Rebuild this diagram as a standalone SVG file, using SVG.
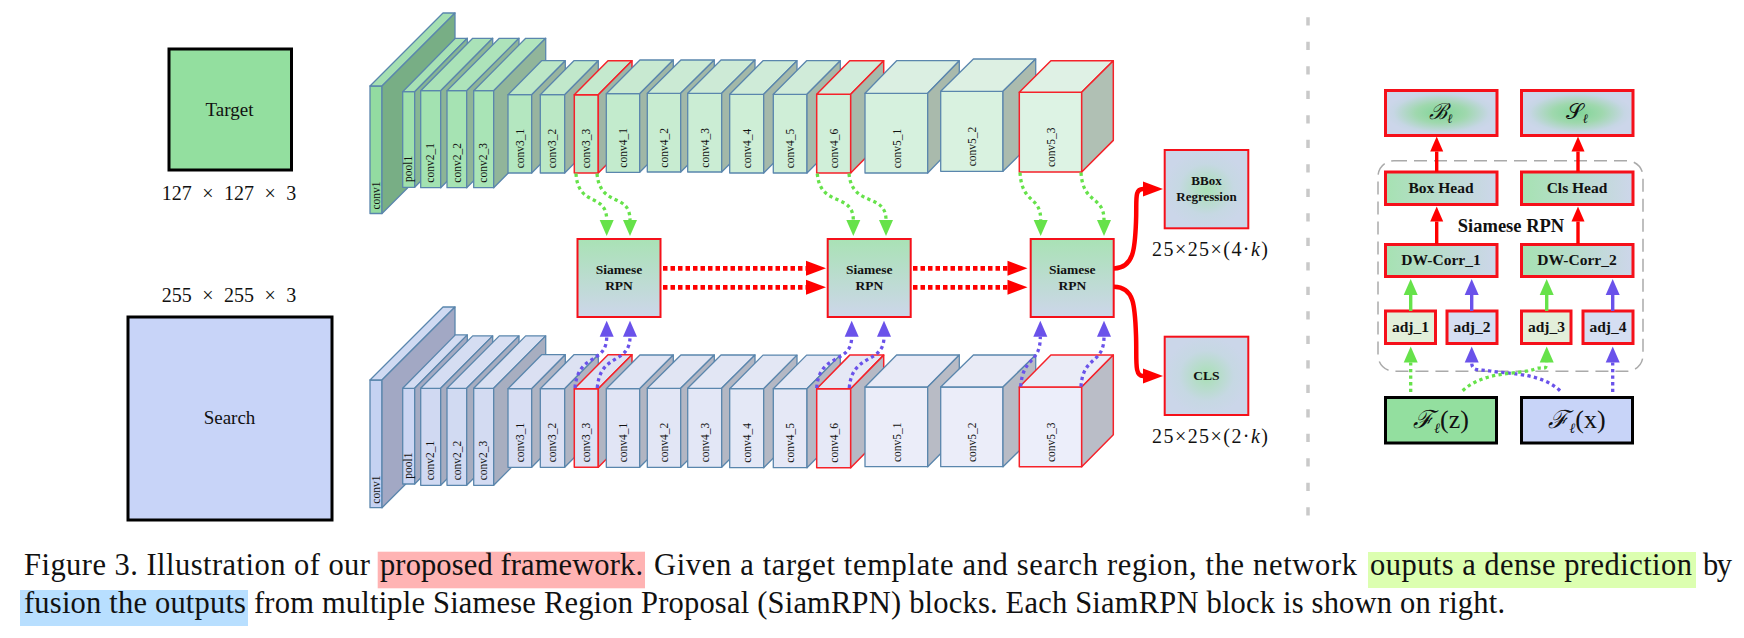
<svg xmlns="http://www.w3.org/2000/svg" width="1744" height="638" viewBox="0 0 1744 638">
<style>
text{font-family:"Liberation Serif","Times New Roman",serif;fill:#111}
.b path,.b rect{stroke:#5a86ad;stroke-width:1.3;stroke-linejoin:round}
.r path,.r rect{stroke:#f5222a;stroke-width:1.5;stroke-linejoin:round}
.l{font-size:11.5px}
.n{font-size:19px;text-anchor:middle}
.d{font-size:20px;text-anchor:middle;word-spacing:5.5px}
.w{font-size:20px;text-anchor:middle}
.m{font-weight:bold;text-anchor:middle;font-size:13.5px}
.h{font-weight:bold;text-anchor:middle;font-size:15.5px}
.c{font-size:30.5px}
.red{stroke:#f5101a;stroke-width:3;fill:none}
.redt{stroke:#f5101a;stroke-width:2;fill:none}
.blk{stroke:#000;stroke-width:3;fill:none}
.dg{fill:none;stroke:#66e24a;stroke-width:3.3;stroke-dasharray:3.3 3.3;marker-end:url(#ag)}
.db{fill:none;stroke:#6a52ea;stroke-width:3.3;stroke-dasharray:3.3 3.3;marker-end:url(#ab)}
.dr{fill:none;stroke:#ff0000;stroke-width:4.8;stroke-dasharray:4.5 3;marker-end:url(#ar)}
.sr{fill:none;stroke:#ff0000;stroke-width:4.5;marker-end:url(#ar)}
.s3{fill:none;stroke:#ff0000;stroke-width:3.4;marker-end:url(#ar2)}
.sg{fill:none;stroke:#66e24a;stroke-width:3.4;marker-end:url(#ag)}
.sb{fill:none;stroke:#6a52ea;stroke-width:3.4;marker-end:url(#ab)}
</style>
<defs>
<marker id="ag" markerUnits="userSpaceOnUse" markerWidth="16" markerHeight="14" refX="0" refY="7" orient="auto" overflow="visible"><path d="M0 0L16 7L0 14z" fill="#66e24a"/></marker>
<marker id="ab" markerUnits="userSpaceOnUse" markerWidth="16" markerHeight="14" refX="0" refY="7" orient="auto" overflow="visible"><path d="M0 0L16 7L0 14z" fill="#6a52ea"/></marker>
<marker id="ar" markerUnits="userSpaceOnUse" markerWidth="20" markerHeight="15" refX="0" refY="7.5" orient="auto" overflow="visible"><path d="M0 0L20 7.5L0 15z" fill="#ff0000"/></marker>
<marker id="ar2" markerUnits="userSpaceOnUse" markerWidth="15" markerHeight="13" refX="0" refY="6.5" orient="auto" overflow="visible"><path d="M0 0L15 6.5L0 13z" fill="#ff0000"/></marker>
<linearGradient id="gv" x1="0" y1="0" x2="0" y2="1"><stop offset="0" stop-color="#a9e2b5"/><stop offset="1" stop-color="#cdd6ea"/></linearGradient>
<linearGradient id="gh" x1="0" y1="0" x2="1" y2="0"><stop offset="0" stop-color="#a6e2b2"/><stop offset="1" stop-color="#cdd6ea"/></linearGradient>
<radialGradient id="gr"><stop offset="0" stop-color="#a8e0b4"/><stop offset=".65" stop-color="#c6d8e3"/><stop offset="1" stop-color="#cbd6e9"/></radialGradient>
<radialGradient id="gb"><stop offset="0" stop-color="#7fd596"/><stop offset=".45" stop-color="#9fd8ae"/><stop offset=".85" stop-color="#c6d6e4"/><stop offset="1" stop-color="#ccd6ea"/></radialGradient>
</defs>

<g id="target"><rect x="169" y="49" width="122.500" height="121" class="blk" style="fill:#93df9f"/><text x="229.500" y="116" class="n">Target</text></g>
<g id="target-size"><text x="229" y="200" class="d">127 × 127 × 3</text></g>
<g id="search-size"><text x="229" y="301.500" class="d">255 × 255 × 3</text></g>
<g id="search"><rect x="128" y="317" width="204" height="203" class="blk" style="fill:#c8d4f8"/><text x="229.500" y="424" class="n">Search</text></g>

<g id="row-target">
<g id="t-conv1" class="b"><rect x="370" y="86" width="12" height="127.500" fill="#93dba1"/><path d="M370 86l73-73h12l-73 73z" fill="#a5dfb2"/><path d="M382 86l73-73v127.500l-73 73z" fill="#78ae85"/><text class="l" transform="translate(379.500 209.500) rotate(-90)">conv1</text></g>
<g id="t-pool1" class="b"><rect x="402.700" y="91.700" width="12" height="95.600" fill="#9fe0ac"/><path d="M402.700 91.700l52.600-53.400h12l-52.600 53.400z" fill="#a7e1b5"/><path d="M414.700 91.700l52.600-53.400v95.600l-52.600 53.400z" fill="#87b693"/><text class="l" transform="translate(412.200 182) rotate(-90)">pool1</text></g>
<g id="t-conv2_1" class="b"><rect x="420.700" y="90.700" width="20" height="97" fill="#a3e2b1"/><path d="M420.700 90.700l52-52.400h20l-52 52.400z" fill="#aae2b8"/><path d="M440.700 90.700l52-52.400v97l-52 52.400z" fill="#8cb596"/><text class="l" transform="translate(434.400 182.700) rotate(-90)">conv2_1</text></g>
<g id="t-conv2_2" class="b"><rect x="447" y="90.700" width="19.700" height="97" fill="#a6e3b3"/><path d="M447 90.700l52.300-52.400h19.700l-52.300 52.400z" fill="#ade3ba"/><path d="M466.700 90.700l52.300-52.400v97l-52.300 52.400z" fill="#8fb598"/><text class="l" transform="translate(460.500 182.700) rotate(-90)">conv2_2</text></g>
<g id="t-conv2_3" class="b"><rect x="473.700" y="90.700" width="20" height="97" fill="#a9e4b6"/><path d="M473.700 90.700l52-52.400h20l-52 52.400z" fill="#b1e4bd"/><path d="M493.700 90.700l52-52.400v97l-52 52.400z" fill="#91b59a"/><text class="l" transform="translate(487.400 182.700) rotate(-90)">conv2_3</text></g>
<g id="t-conv3_1" class="b"><rect x="508" y="94.700" width="23.700" height="78.300" fill="#b4e7c0"/><path d="M508 94.700l33.600-34h23.700l-33.600 34z" fill="#bce7c7"/><path d="M531.700 94.700l33.600-34v78.300l-33.600 34z" fill="#98b49f"/><text class="l" transform="translate(523.600 168.300) rotate(-90)">conv3_1</text></g>
<g id="t-conv3_2" class="b"><rect x="540.300" y="94.700" width="24.400" height="78.300" fill="#bbe8c5"/><path d="M540.300 94.700l33.600-34h24.400l-33.600 34z" fill="#c1e8cb"/><path d="M564.700 94.700l33.600-34v78.300l-33.600 34z" fill="#9cb5a2"/><text class="l" transform="translate(556.200 168.300) rotate(-90)">conv3_2</text></g>
<g id="t-conv3_3" class="r"><rect x="574.300" y="94.700" width="24" height="78.300" fill="#bfe9c9"/><path d="M574.300 94.700l33.700-34h24l-33.700 34z" fill="#c5e9ce"/><path d="M598.300 94.700l33.700-34v78.300l-33.700 34z" fill="#9fb6a5"/><text class="l" transform="translate(590 168.300) rotate(-90)">conv3_3</text></g>
<g id="t-conv4_1" class="b"><rect x="606.300" y="93.700" width="33.400" height="78.600" fill="#c3ebcd"/><path d="M606.300 93.700l33.600-33.700h33.400l-33.600 33.700z" fill="#c8e9d1"/><path d="M639.700 93.700l33.600-33.700v78.600l-33.600 33.700z" fill="#a0b7a6"/><text class="l" transform="translate(627 167.700) rotate(-90)">conv4_1</text></g>
<g id="t-conv4_2" class="b"><rect x="647.300" y="93.300" width="33.400" height="78.700" fill="#c8ecd1"/><path d="M647.300 93.300l33.600-33.300h33.400l-33.600 33.300z" fill="#cbead4"/><path d="M680.700 93.300l33.600-33.300v78.700l-33.600 33.300z" fill="#a2b8a8"/><text class="l" transform="translate(668 167.700) rotate(-90)">conv4_2</text></g>
<g id="t-conv4_3" class="b"><rect x="687.700" y="93.300" width="34" height="78.700" fill="#cbedd4"/><path d="M687.700 93.300l33.300-33.300h34l-33.300 33.300z" fill="#cdead6"/><path d="M721.700 93.300l33.300-33.300v78.700l-33.300 33.300z" fill="#a3b8a8"/><text class="l" transform="translate(708.700 167.700) rotate(-90)">conv4_3</text></g>
<g id="t-conv4_4" class="b"><rect x="729.700" y="94.300" width="34" height="78.700" fill="#ceeed6"/><path d="M729.700 94.300l33.300-33.600h34l-33.300 33.600z" fill="#cfebd8"/><path d="M763.700 94.300l33.300-33.600v78.700l-33.300 33.600z" fill="#a5b9aa"/><text class="l" transform="translate(750.700 168.300) rotate(-90)">conv4_4</text></g>
<g id="t-conv4_5" class="b"><rect x="773.300" y="94.300" width="33.700" height="78.700" fill="#cfeed7"/><path d="M773.300 94.300l33.300-33.600h33.700l-33.300 33.600z" fill="#d0ebd9"/><path d="M807 94.300l33.300-33.600v78.700l-33.300 33.600z" fill="#a6b9aa"/><text class="l" transform="translate(794.200 168.300) rotate(-90)">conv4_5</text></g>
<g id="t-conv4_6" class="r"><rect x="816.700" y="94.300" width="34" height="78.700" fill="#d0efd9"/><path d="M816.700 94.300l33-33.600h34l-33 33.600z" fill="#d2ecdb"/><path d="M850.700 94.300l33-33.600v78.700l-33 33.600z" fill="#a7baab"/><text class="l" transform="translate(837.700 168.300) rotate(-90)">conv4_6</text></g>
<g id="t-conv5_1" class="b"><rect x="865" y="93.300" width="62.700" height="79.700" fill="#d6f1de"/><path d="M865 93.300l31.600-32.600h62.700l-31.600 32.600z" fill="#dbefe2"/><path d="M927.700 93.300l31.600-32.600v79.700l-31.600 32.600z" fill="#a9baac"/><text class="l" transform="translate(900.500 168.300) rotate(-90)">conv5_1</text></g>
<g id="t-conv5_2" class="b"><rect x="940.700" y="91.300" width="62.300" height="80" fill="#d9f2e0"/><path d="M940.700 91.300l32.700-32.300h62.300l-32.700 32.300z" fill="#ddf0e3"/><path d="M1003 91.300l32.700-32.300v80l-32.700 32.300z" fill="#abbbae"/><text class="l" transform="translate(976 166.300) rotate(-90)">conv5_2</text></g>
<g id="t-conv5_3" class="r"><rect x="1019.300" y="92.300" width="62.400" height="79.700" fill="#ddf3e4"/><path d="M1019.300 92.300l31.600-31.600h62.400l-31.600 31.600z" fill="#dff1e5"/><path d="M1081.700 92.300l31.600-31.600v79.700l-31.600 31.600z" fill="#b0c0b4"/><text class="l" transform="translate(1054.500 167) rotate(-90)">conv5_3</text></g>
</g>

<g id="row-search">
<g id="s-conv1" class="b"><rect x="370" y="380" width="12" height="127.700" fill="#c5d2f2"/><path d="M370 380l73-73h12l-73 73z" fill="#d0daf2"/><path d="M382 380l73-73v127.700l-73 73z" fill="#a2a8c4"/><text class="l" transform="translate(379.500 503.700) rotate(-90)">conv1</text></g>
<g id="s-pool1" class="b"><rect x="402.700" y="388.300" width="12" height="95.700" fill="#ccd6f3"/><path d="M402.700 388.300l52.600-53.400h12l-52.600 53.400z" fill="#d3dcf2"/><path d="M414.700 388.300l52.600-53.400v95.700l-52.600 53.400z" fill="#a4aac2"/><text class="l" transform="translate(412.200 478.700) rotate(-90)">pool1</text></g>
<g id="s-conv2_1" class="b"><rect x="420.700" y="388.300" width="20" height="97" fill="#d0d9f2"/><path d="M420.700 388.300l52-52.400h20l-52 52.400z" fill="#d5ddf2"/><path d="M440.700 388.300l52-52.400v97l-52 52.400z" fill="#a6acc0"/><text class="l" transform="translate(434.400 480.300) rotate(-90)">conv2_1</text></g>
<g id="s-conv2_2" class="b"><rect x="447" y="388.300" width="19.700" height="97" fill="#d1daf2"/><path d="M447 388.300l52.300-52.400h19.700l-52.300 52.400z" fill="#d7def2"/><path d="M466.700 388.300l52.300-52.400v97l-52.300 52.400z" fill="#a7adc0"/><text class="l" transform="translate(460.500 480.300) rotate(-90)">conv2_2</text></g>
<g id="s-conv2_3" class="b"><rect x="473.700" y="388.300" width="20" height="97" fill="#d3dbf2"/><path d="M473.700 388.300l52-52.400h20l-52 52.400z" fill="#d9e0f2"/><path d="M493.700 388.300l52-52.400v97l-52 52.400z" fill="#a8aec0"/><text class="l" transform="translate(487.400 480.300) rotate(-90)">conv2_3</text></g>
<g id="s-conv3_1" class="b"><rect x="508" y="388.700" width="23.700" height="78.600" fill="#d8def3"/><path d="M508 388.700l33.600-34h23.700l-33.600 34z" fill="#dbe0f2"/><path d="M531.700 388.700l33.600-34v78.600l-33.600 34z" fill="#aeb3c2"/><text class="l" transform="translate(523.600 462.300) rotate(-90)">conv3_1</text></g>
<g id="s-conv3_2" class="b"><rect x="540.300" y="388.700" width="24.400" height="78.600" fill="#dbe0f3"/><path d="M540.300 388.700l33.600-34h24.400l-33.600 34z" fill="#dde2f2"/><path d="M564.700 388.700l33.600-34v78.600l-33.600 34z" fill="#afb4c2"/><text class="l" transform="translate(556.200 462.300) rotate(-90)">conv3_2</text></g>
<g id="s-conv3_3" class="r"><rect x="574.300" y="388.700" width="24" height="78.600" fill="#dde2f4"/><path d="M574.300 388.700l33.700-34h24l-33.700 34z" fill="#dfe3f3"/><path d="M598.300 388.700l33.700-34v78.600l-33.700 34z" fill="#b0b5c2"/><text class="l" transform="translate(590 462.300) rotate(-90)">conv3_3</text></g>
<g id="s-conv4_1" class="b"><rect x="606.300" y="388.700" width="33.400" height="78.600" fill="#e1e5f5"/><path d="M606.300 388.700l33.600-33.700h33.400l-33.600 33.700z" fill="#e0e4f3"/><path d="M639.700 388.700l33.600-33.700v78.600l-33.600 33.700z" fill="#b1b5c2"/><text class="l" transform="translate(627 462.300) rotate(-90)">conv4_1</text></g>
<g id="s-conv4_2" class="b"><rect x="647.300" y="388.300" width="33.400" height="79" fill="#e2e6f5"/><path d="M647.300 388.300l33.600-33.300h33.400l-33.600 33.300z" fill="#e1e5f3"/><path d="M680.700 388.300l33.600-33.300v79l-33.600 33.300z" fill="#b2b6c3"/><text class="l" transform="translate(668 462.300) rotate(-90)">conv4_2</text></g>
<g id="s-conv4_3" class="b"><rect x="687.700" y="388.300" width="34" height="79" fill="#e3e7f6"/><path d="M687.700 388.300l33.300-33.300h34l-33.300 33.300z" fill="#e2e6f4"/><path d="M721.700 388.300l33.300-33.300v79l-33.300 33.300z" fill="#b3b7c3"/><text class="l" transform="translate(708.700 462.300) rotate(-90)">conv4_3</text></g>
<g id="s-conv4_4" class="b"><rect x="729.700" y="388.700" width="34" height="79" fill="#e4e8f6"/><path d="M729.700 388.700l33.300-33.600h34l-33.300 33.600z" fill="#e3e7f4"/><path d="M763.700 388.700l33.300-33.600v79l-33.300 33.600z" fill="#b4b8c4"/><text class="l" transform="translate(750.700 462.700) rotate(-90)">conv4_4</text></g>
<g id="s-conv4_5" class="b"><rect x="773.300" y="388.700" width="33.700" height="79" fill="#e5e8f6"/><path d="M773.300 388.700l33.300-33.600h33.700l-33.300 33.600z" fill="#e4e8f5"/><path d="M807 388.700l33.300-33.600v79l-33.300 33.600z" fill="#b5b8c4"/><text class="l" transform="translate(794.200 462.700) rotate(-90)">conv4_5</text></g>
<g id="s-conv4_6" class="r"><rect x="816.700" y="388.700" width="34" height="79" fill="#e6e9f7"/><path d="M816.700 388.700l33-33.600h34l-33 33.600z" fill="#e5e8f5"/><path d="M850.700 388.700l33-33.600v79l-33 33.600z" fill="#b6b9c5"/><text class="l" transform="translate(837.700 462.700) rotate(-90)">conv4_6</text></g>
<g id="s-conv5_1" class="b"><rect x="865" y="387" width="62.700" height="79.700" fill="#ebedf9"/><path d="M865 387l31.600-32h62.700l-31.600 32z" fill="#e8eaf6"/><path d="M927.700 387l31.600-32v79.700l-31.600 32z" fill="#b8bbc5"/><text class="l" transform="translate(900.500 462) rotate(-90)">conv5_1</text></g>
<g id="s-conv5_2" class="b"><rect x="940.700" y="387" width="62.300" height="79.700" fill="#ebedf9"/><path d="M940.700 387l32.700-32h62.300l-32.700 32z" fill="#e9ebf6"/><path d="M1003 387l32.700-32v79.700l-32.700 32z" fill="#b8bbc5"/><text class="l" transform="translate(976 462) rotate(-90)">conv5_2</text></g>
<g id="s-conv5_3" class="r"><rect x="1019.300" y="387" width="62.400" height="79.700" fill="#eceefa"/><path d="M1019.300 387l31.600-32h62.400l-31.600 32z" fill="#eaecf7"/><path d="M1081.700 387l31.600-32v79.700l-31.600 32z" fill="#babdc7"/><text class="l" transform="translate(1054.500 462) rotate(-90)">conv5_3</text></g>
</g>

<g id="rpn1"><rect x="577.500" y="239" width="83" height="78" class="redt" style="fill:url(#gv)"/><text x="619" y="273.500" class="m">Siamese</text><text x="619" y="290" class="m">RPN</text></g>
<g id="rpn2"><rect x="827.700" y="239" width="83" height="78" class="redt" style="fill:url(#gv)"/><text x="869.300" y="273.500" class="m">Siamese</text><text x="869.300" y="290" class="m">RPN</text></g>
<g id="rpn3"><rect x="1030.700" y="239" width="83" height="78" class="redt" style="fill:url(#gv)"/><text x="1072.300" y="273.500" class="m">Siamese</text><text x="1072.300" y="290" class="m">RPN</text></g>
<g id="bbox"><rect x="1164.700" y="150" width="83.600" height="78.300" class="redt" style="fill:url(#gr)"/><text x="1206.500" y="185" class="m" style="font-size:13px">BBox</text><text x="1206.500" y="201" class="m" style="font-size:13px">Regression</text></g>
<g id="cls"><rect x="1164.700" y="336.700" width="83.600" height="78.300" class="redt" style="fill:url(#gr)"/><text x="1206.500" y="379.500" class="m">CLS</text></g>
<g id="bbox-size"><text x="1210" y="256" class="w" textLength="116" lengthAdjust="spacing">25×25×(4·<tspan font-style="italic">k</tspan>)</text></g>
<g id="cls-size"><text x="1210" y="443" class="w" textLength="116" lengthAdjust="spacing">25×25×(2·<tspan font-style="italic">k</tspan>)</text></g>

<g id="divider"><path d="M1308 17.200V519" stroke="#c9c9c9" stroke-width="3.500" stroke-dasharray="8.200 16.300" fill="none"/></g>
<g id="siamese-rpn-frame"><rect x="1378" y="160.700" width="265" height="210.500" rx="16" fill="none" stroke="#aaaaaa" stroke-width="1.500" stroke-dasharray="13 7"/><text x="1511" y="232" style="font-size:18.500px;font-weight:bold;text-anchor:middle">Siamese RPN</text></g>
<g id="b-out"><rect x="1385.500" y="90.500" width="111.500" height="45" class="red" style="fill:url(#gb)"/><text x="1441" y="119" style="font-size:22px;text-anchor:middle;font-family:'DejaVu Serif','Liberation Serif',serif;font-style:italic">ℬ<tspan font-size="13" dy="4">ℓ</tspan></text></g>
<g id="s-out"><rect x="1521.500" y="90.500" width="111.500" height="45" class="red" style="fill:url(#gb)"/><text x="1577" y="119" style="font-size:22px;text-anchor:middle;font-family:'DejaVu Serif','Liberation Serif',serif">𝒮<tspan font-size="13" dy="4" font-style="italic">ℓ</tspan></text></g>
<g id="box-head"><rect x="1385.500" y="172" width="111.500" height="32.500" class="red" style="fill:url(#gh)"/><text x="1441" y="192.500" class="h">Box Head</text></g>
<g id="cls-head"><rect x="1521.500" y="172" width="111.500" height="32.500" class="red" style="fill:url(#gh)"/><text x="1577" y="192.500" class="h">Cls Head</text></g>
<g id="dw1"><rect x="1385.500" y="244.500" width="111.500" height="32" class="red" style="fill:url(#gh)"/><text x="1441" y="265" class="h">DW-Corr_1</text></g>
<g id="dw2"><rect x="1521.500" y="244.500" width="111.500" height="32" class="red" style="fill:url(#gh)"/><text x="1577" y="265" class="h">DW-Corr_2</text></g>
<g id="adj1"><rect x="1385.500" y="311" width="50" height="32.500" class="red" style="fill:#e3efda"/><text x="1410.500" y="331.500" class="h">adj_1</text></g>
<g id="adj2"><rect x="1447" y="311" width="50" height="32.500" class="red" style="fill:#d5def2"/><text x="1472" y="331.500" class="h">adj_2</text></g>
<g id="adj3"><rect x="1521.500" y="311" width="49.500" height="32.500" class="red" style="fill:#e3efda"/><text x="1546.500" y="331.500" class="h">adj_3</text></g>
<g id="adj4"><rect x="1583" y="311" width="50" height="32.500" class="red" style="fill:#d5def2"/><text x="1608" y="331.500" class="h">adj_4</text></g>
<g id="fz"><rect x="1385.500" y="397.500" width="111" height="45.500" class="blk" style="fill:#93df9f"/><text x="1441" y="428" style="font-size:26px;text-anchor:middle"><tspan font-family="DejaVu Serif" font-style="italic" font-size="25">ℱ</tspan><tspan font-size="14" dy="5" font-style="italic">ℓ</tspan><tspan dy="-5">(z)</tspan></text></g>
<g id="fx"><rect x="1521.500" y="397.500" width="111" height="45.500" class="blk" style="fill:#c8d4f8"/><text x="1577" y="428" style="font-size:26px;text-anchor:middle"><tspan font-family="DejaVu Serif" font-style="italic" font-size="25">ℱ</tspan><tspan font-size="14" dy="5" font-style="italic">ℓ</tspan><tspan dy="-5">(x)</tspan></text></g>

<g id="connectors">
<path class="dg" d="M576 173.500C578 208 606.700 192 606.700 220"/>
<path class="dg" d="M597 173.500C600 208 630 192 630 220"/>
<path class="dg" d="M817.300 173.500C820 208 853.300 192 853.300 220"/>
<path class="dg" d="M849 173.500C852 208 886 192 886 220"/>
<path class="dg" d="M1020 172.500C1022 205 1040.700 195 1040.700 220"/>
<path class="dg" d="M1081 172.500C1083 205 1104 195 1104 220"/>
<path class="db" d="M575 388C578 352 606.700 365 606.700 336.700"/>
<path class="db" d="M597.300 388C600 352 630 365 630 336.700"/>
<path class="db" d="M816.700 388C819 352 851.700 365 851.700 336.700"/>
<path class="db" d="M849.300 388C852 352 884 365 884 336.700"/>
<path class="db" d="M1020.700 386.700C1023 355 1040.300 365 1040.300 336.700"/>
<path class="db" d="M1081 386.700C1083 355 1104 365 1104 336.700"/>
<path class="dr" d="M663 268.300H806"/>
<path class="dr" d="M663 287.300H806"/>
<path class="dr" d="M913 268.300H1007.500"/>
<path class="dr" d="M913 287.300H1007.500"/>
<path class="sr" d="M1114 268.500C1134 268 1135 248 1136 222C1137 200 1134 189 1143 189"/>
<path class="sr" d="M1114 286.700C1134 287 1135 305 1136 335C1137 360 1134 376 1143 376"/>
<path class="s3" d="M1436.700 172V151.500"/>
<path class="s3" d="M1578 172V151.500"/>
<path class="s3" d="M1436.700 244V221.500"/>
<path class="s3" d="M1578 244V221.500"/>
<path class="sg" d="M1410.700 311V295"/>
<path class="sb" d="M1471.700 311V295"/>
<path class="sg" d="M1546.700 311V295"/>
<path class="sb" d="M1612.700 311V295"/>
<path class="dg" d="M1410.700 392V362.500"/>
<path class="db" d="M1612.700 392V362.500"/>
<path class="db" d="M1560 390.700C1540 372 1506 374 1490 371C1480 369 1471.700 372 1471.700 362.500"/>
<path class="dg" d="M1462.700 390.700C1485 370 1520 375 1535 369C1542 366 1546.700 372 1546.700 362.500"/>
</g>

<g id="caption">
<rect x="377.700" y="551.700" width="267.300" height="36.600" fill="#ffb3b3"/>
<rect x="1368" y="552" width="328" height="36" fill="#dcffb0"/>
<rect x="20" y="590" width="228" height="36" fill="#b8dfff"/>
<text class="c" x="24" y="575" textLength="346" lengthAdjust="spacing">Figure 3. Illustration of our</text>
<text class="c" x="380" y="575" textLength="263" lengthAdjust="spacing">proposed framework.</text>
<text class="c" x="654" y="575" textLength="703" lengthAdjust="spacing">Given a target template and search region, the network</text>
<text class="c" x="1370" y="575" textLength="322" lengthAdjust="spacing">ouputs a dense prediction</text>
<text class="c" x="1703" y="575" textLength="29" lengthAdjust="spacing">by</text>
<text class="c" x="24" y="613.300" textLength="1481" lengthAdjust="spacing">fusion the outputs from multiple Siamese Region Proposal (SiamRPN) blocks. Each SiamRPN block is shown on right.</text>
</g>
</svg>
